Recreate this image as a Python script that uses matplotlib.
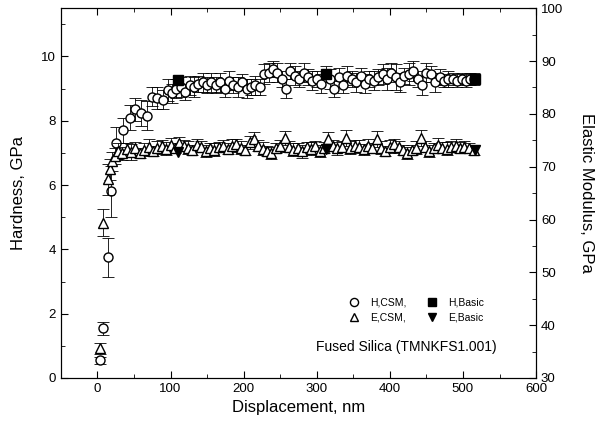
import matplotlib.pyplot as plt
from matplotlib.ticker import MultipleLocator

plt.rcParams['font.family'] = ['Liberation Sans', 'DejaVu Sans']

# hardness, CSM (nm, GPa)
h_disp = [4, 8, 14, 19, 25, 35, 45, 52, 60, 68, 75, 82, 90, 96, 102, 108,
          114, 120, 126, 132, 138, 144, 150, 156, 162, 168, 174, 180, 186, 192,
          198, 204, 210, 216, 222, 228, 234, 240, 246, 252, 258, 264, 270, 276,
          282, 288, 294, 300, 306, 312, 318, 324, 330, 336, 342, 348, 354, 360,
          366, 372, 378, 384, 390, 396, 402, 408, 414, 420, 426, 432, 438, 444,
          450, 456, 462, 468, 474, 480, 486, 492, 498, 504, 510, 515]
h_csm = [0.55, 1.55, 3.75, 5.8, 7.3, 7.7, 8.1, 8.35, 8.25, 8.15, 8.75, 8.7, 8.65, 8.95, 8.85, 9.0,
         9.05, 8.9, 9.1, 9.05, 9.15, 9.2, 9.1, 9.2, 9.1, 9.2, 9.0, 9.25, 9.1, 9.05,
         9.2, 9.0, 9.05, 9.1, 9.05, 9.45, 9.5, 9.6, 9.5, 9.3, 9.0, 9.55, 9.4, 9.3,
         9.5, 9.35, 9.25, 9.3, 9.15, 9.45, 9.3, 9.0, 9.35, 9.1, 9.4, 9.3, 9.2, 9.4,
         9.15, 9.3, 9.25, 9.35, 9.45, 9.3, 9.5, 9.35, 9.2, 9.4, 9.45, 9.55, 9.3, 9.1,
         9.5, 9.45, 9.2, 9.35, 9.25, 9.3, 9.3, 9.25, 9.3, 9.25, 9.3, 9.3]
h_err = [0.1, 0.2, 0.6, 0.8, 0.5, 0.4, 0.4, 0.35, 0.4, 0.45, 0.3, 0.35, 0.3, 0.35, 0.3, 0.3,
         0.3, 0.25, 0.3, 0.3, 0.25, 0.3, 0.25, 0.3, 0.25, 0.3, 0.25, 0.3, 0.25, 0.3,
         0.25, 0.3, 0.25, 0.3, 0.25, 0.3, 0.3, 0.25, 0.3, 0.25, 0.3, 0.25, 0.3, 0.25,
         0.3, 0.25, 0.3, 0.25, 0.3, 0.25, 0.3, 0.25, 0.3, 0.25, 0.3, 0.25, 0.3, 0.25,
         0.3, 0.25, 0.3, 0.25, 0.3, 0.35, 0.3, 0.4, 0.3, 0.25, 0.35, 0.3, 0.25, 0.3,
         0.3, 0.25, 0.3, 0.25, 0.2, 0.25, 0.2, 0.2, 0.2, 0.2, 0.2, 0.2]

# modulus, CSM (nm, GPa)
e_disp = [3, 8, 14, 17, 20, 24, 28, 34, 40, 46, 52, 58, 64, 70, 76, 82, 88, 94,
          100, 106, 112, 118, 124, 130, 136, 142, 148, 154, 160, 166, 172, 178,
          184, 190, 196, 202, 208, 214, 220, 226, 232, 238, 244, 250, 256, 262,
          268, 274, 280, 286, 292, 298, 304, 310, 316, 322, 328, 334, 340, 346,
          352, 358, 364, 370, 376, 382, 388, 394, 400, 406, 412, 418, 424, 430,
          436, 442, 448, 454, 460, 466, 472, 478, 484, 490, 496, 502, 508, 515]
e_csm = [35.6, 59.4, 67.6, 69.5, 71.0, 72.0, 73.0, 72.5, 73.3, 72.8, 73.5, 72.6, 73.2, 73.8, 73.0, 73.6, 74.0, 73.4,
         74.2, 73.5, 74.5, 74.0, 73.6, 73.2, 74.1, 73.8, 73.0, 73.5, 73.2, 73.7, 73.9, 73.4,
         74.0, 74.3, 73.6, 73.2, 74.6, 75.3, 74.0, 73.4, 73.0, 72.6, 73.5, 73.9, 75.4, 73.8,
         73.2, 73.5, 72.9, 73.7, 73.4, 73.9, 73.0, 73.6, 75.3, 74.0, 73.5, 73.8, 75.4, 73.6,
         74.0, 73.8, 73.3, 74.0, 73.5, 75.3, 73.6, 73.0, 73.8, 74.3, 73.7, 73.2, 72.6, 73.2,
         73.6, 75.4, 73.8, 73.0, 73.5, 74.2, 73.6, 73.4, 73.8, 74.0, 73.6, 73.8, 73.5, 73.2]
e_err = [1.0, 2.5, 3.0, 2.0, 1.8, 1.5, 1.5, 1.2, 1.2, 1.5, 1.2, 1.0, 1.2, 1.5, 1.0, 1.2, 1.0, 1.2,
         1.2, 1.0, 1.2, 1.0, 1.2, 1.0, 1.2, 1.0, 1.2, 1.0, 1.2, 1.0, 1.2, 1.0,
         1.2, 1.0, 1.2, 1.0, 1.2, 1.3, 1.0, 1.2, 1.0, 1.2, 1.0, 1.2, 1.3, 1.0,
         1.2, 1.0, 1.2, 1.0, 1.2, 1.0, 1.2, 1.0, 1.3, 1.0, 1.2, 1.0, 1.5, 1.2,
         1.0, 1.2, 1.0, 1.2, 1.0, 1.5, 1.2, 1.0, 1.2, 1.0, 1.2, 1.0, 1.2, 1.0,
         1.2, 1.5, 1.0, 1.2, 1.0, 1.2, 1.0, 1.2, 1.0, 1.2, 1.0, 1.0, 1.0, 1.0]

# basic method
basic_disp = [110, 312, 516]
h_basic = [9.28, 9.44, 9.3]
e_basic = [72.8, 73.4, 73.2]

fig = plt.figure(figsize=(6.03, 4.32), dpi=100)
ax = fig.add_axes([0.101, 0.125, 0.788, 0.856])
ax2 = ax.twinx()

eb_kw = dict(fmt='none', ecolor='black', elinewidth=0.6, capsize=4, capthick=0.6, zorder=2)
ax.errorbar(h_disp, h_csm, yerr=h_err, **eb_kw)
ax2.errorbar(e_disp, e_csm, yerr=e_err, **eb_kw)

hc, = ax.plot(h_disp, h_csm, 'o', ms=6.5, mfc='white', mec='black', mew=1.0, ls='none', zorder=3)
hb, = ax.plot(basic_disp, h_basic, 's', ms=6.5, mfc='black', mec='black', ls='none', zorder=4)
ec, = ax2.plot(e_disp, e_csm, '^', ms=6.5, mfc='white', mec='black', mew=1.0, ls='none', zorder=3)
ebs, = ax2.plot(basic_disp, e_basic, 'v', ms=6.5, mfc='black', mec='black', ls='none', zorder=4)

ax.set_xlim(-50, 600)
ax.set_ylim(0, 11.5)
ax2.set_ylim(30, 100)

ax.xaxis.set_major_locator(MultipleLocator(100))
ax.xaxis.set_minor_locator(MultipleLocator(50))
ax.yaxis.set_major_locator(MultipleLocator(2))
ax.yaxis.set_minor_locator(MultipleLocator(1))
ax2.yaxis.set_major_locator(MultipleLocator(10))
ax2.yaxis.set_minor_locator(MultipleLocator(5))

ax.tick_params(which='both', direction='in', top=True, labelsize=9.5)
ax.tick_params(which='major', length=5)
ax.tick_params(which='minor', length=3)
ax2.tick_params(which='both', direction='in', labelsize=9.5)
ax2.tick_params(which='major', length=5)
ax2.tick_params(which='minor', length=3)

ax.set_xlabel('Displacement, nm', fontsize=12)
ax.set_ylabel('Hardness, GPa', fontsize=12, labelpad=11)
ax2.set_ylabel('Elastic Modulus, GPa', fontsize=12, rotation=270, labelpad=22)

ax2.legend([hc, ec, hb, ebs], ['H,CSM,', 'E,CSM,', 'H,Basic', 'E,Basic'],
           ncol=2, frameon=False, fontsize=7.5, loc='lower left',
           bbox_to_anchor=(0.575, 0.125), handletextpad=0.6, columnspacing=1.4,
           labelspacing=0.5, markerscale=0.9)
ax.text(0.727, 0.085, 'Fused Silica (TMNKFS1.001)', transform=ax.transAxes,
        fontsize=10, ha='center', va='center')

fig.savefig('out.png', dpi=100)
